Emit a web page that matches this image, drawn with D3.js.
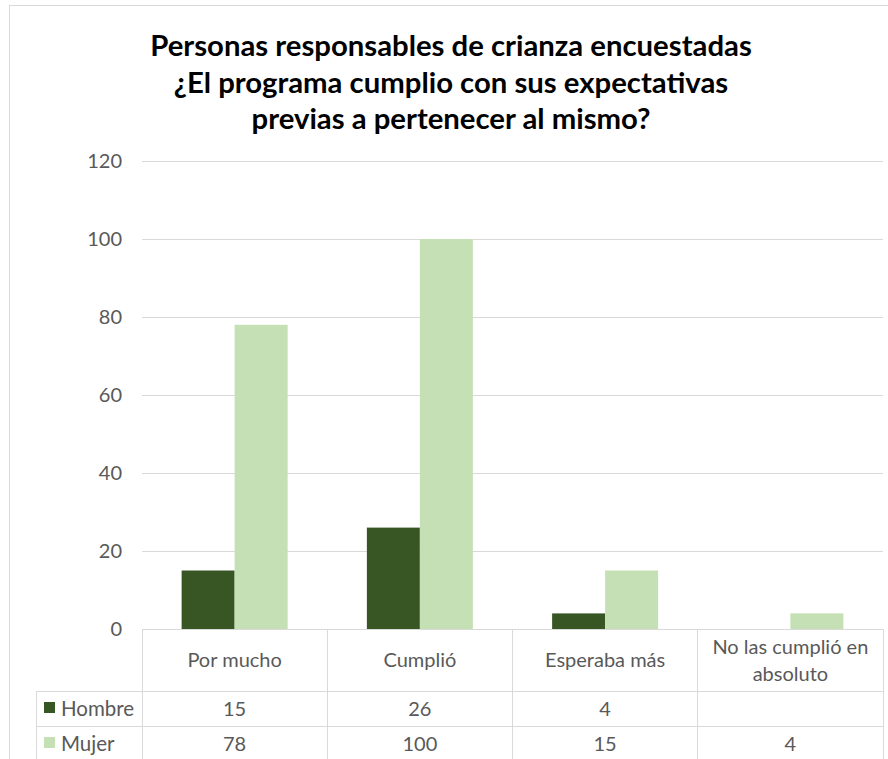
<!DOCTYPE html>
<html lang="es">
<head>
<meta charset="utf-8">
<script src="https://d3js.org/d3.v7.min.js"></script>
<title>Personas responsables de crianza encuestadas</title>
<style>
  body { margin: 0; background: #fff; }
  svg { display: block; }
  text { font-family: Lato, "Open Sans", sans-serif; }
</style>
</head>
<body>
<svg width="888" height="759"></svg>
<script>
// data
const categories = [["Por mucho"], ["Cumplió"], ["Esperaba más"], ["No las cumplió en", "absoluto"]];
const seriesNames = ["Hombre", "Mujer"];
const hombre = [15, 26, 4, null];
const mujer = [78, 100, 15, 4];
const yTicks = [0, 20, 40, 60, 80, 100, 120];
const titleLines = ["Personas responsables de crianza encuestadas",
                    "¿El programa cumplio con sus expectativas",
                    "previas a pertenecer al mismo?"];
const colors = ["#375623", "#c5e0b4"];

const svg = d3.select("svg");
const grid = "#d9d9d9", labelColor = "#595959";

// chart frame
svg.append("line").attr("x1", 9).attr("x2", 888).attr("y1", 5.5).attr("y2", 5.5).attr("stroke", grid);
svg.append("line").attr("x1", 9.5).attr("x2", 9.5).attr("y1", 5).attr("y2", 759).attr("stroke", grid);

// title, sized so the first line fills its width
const title = svg.append("g");
const tl = title.selectAll("text").data(titleLines).enter().append("text")
    .attr("x", 451).attr("y", (d, i) => 56 + i * 36.5)
    .attr("text-anchor", "middle").attr("font-weight", "bold")
    .attr("font-size", 24).attr("fill", "#000").text(d => d);
const w0 = tl.nodes()[0].getComputedTextLength();
tl.attr("font-size", 24 * 602 / w0);

const x0 = 142, x1 = 883, y0 = 629, yTop = 161;
const x = d3.scaleBand().domain(d3.range(categories.length)).range([x0, x1]);
const y = d3.scaleLinear().domain([0, 120]).range([y0, yTop]);
const barW = 53;
const xs = d3.scaleBand().domain(seriesNames).range([0, x.bandwidth()])
    .paddingOuter((x.bandwidth() / barW - 2) / 2);

// gridlines
svg.append("g").selectAll("line").data(yTicks.filter(t => t > 0)).enter().append("line")
    .attr("x1", x0).attr("x2", x1)
    .attr("y1", d => Math.round(y(d)) + 0.5).attr("y2", d => Math.round(y(d)) + 0.5)
    .attr("stroke", grid);

// y axis labels
const yAxis = svg.append("g").attr("transform", "translate(" + (x0 - 10) + ",0)")
    .call(d3.axisLeft(y).tickValues(yTicks).tickSize(0).tickPadding(10));
yAxis.select(".domain").remove();
yAxis.selectAll("text").attr("font-size", 20).attr("fill", labelColor)
    .attr("font-family", "Lato, 'Open Sans', sans-serif");

// bars
const data = [hombre, mujer];
svg.append("g").selectAll("g").data(data).enter().append("g")
    .attr("fill", (d, i) => colors[i])
    .each(function(vals, si) {
        d3.select(this).selectAll("rect").data(vals).enter()
          .filter(v => v != null)
          .append("rect")
          .attr("x", (v, i) => x(i) + xs(seriesNames[si]))
          .attr("width", xs.bandwidth())
          .attr("y", v => y(v))
          .attr("height", v => y0 - y(v));
    });

// data table
const rowTop = 691, rowMid = 726, rowBot = 759, legendLeft = 36;
const table = svg.append("g").attr("stroke", grid).attr("shape-rendering", "crispEdges");
table.append("line").attr("x1", x0).attr("x2", x1).attr("y1", y0).attr("y2", y0);
table.append("line").attr("x1", legendLeft).attr("x2", x1).attr("y1", rowTop).attr("y2", rowTop);
table.append("line").attr("x1", legendLeft).attr("x2", x1).attr("y1", rowMid).attr("y2", rowMid);
table.append("line").attr("x1", legendLeft).attr("x2", legendLeft).attr("y1", rowTop).attr("y2", rowBot);
table.selectAll("line.col").data(d3.range(categories.length + 1)).enter().append("line")
    .attr("class", "col")
    .attr("x1", i => i < categories.length ? x(i) : x1)
    .attr("x2", i => i < categories.length ? x(i) : x1)
    .attr("y1", y0).attr("y2", rowBot);

// category headers
const cat = svg.append("g").selectAll("text").data(categories).enter().append("text")
    .attr("x", (d, i) => x(i) + x.bandwidth() / 2)
    .attr("text-anchor", "middle").attr("font-size", 20).attr("fill", labelColor);
cat.each(function(lines) {
    const start = lines.length === 1 ? 667 : 654;
    d3.select(this).selectAll("tspan").data(lines).enter().append("tspan")
      .attr("x", d3.select(this).attr("x"))
      .attr("y", (d, j) => start + j * 27)
      .text(d => d);
});

// row labels with legend keys, and values
const rowBase = [716, 751];
seriesNames.forEach((name, si) => {
    svg.append("rect").attr("x", 44).attr("y", rowBase[si] - 14).attr("width", 11).attr("height", 11)
       .attr("fill", colors[si]);
    svg.append("text").attr("x", 61).attr("y", rowBase[si]).attr("font-size", 20.5)
       .attr("fill", labelColor).text(name);
    svg.append("g").selectAll("text").data(data[si]).enter().append("text")
       .attr("x", (v, i) => x(i) + x.bandwidth() / 2).attr("y", rowBase[si])
       .attr("text-anchor", "middle").attr("font-size", 20).attr("fill", labelColor)
       .text(v => v == null ? "" : v);
});
</script>
</body>
</html>
